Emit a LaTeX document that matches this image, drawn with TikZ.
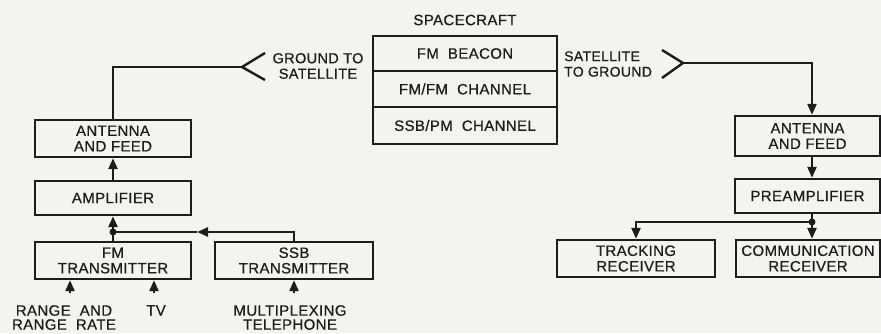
\documentclass[tikz,border=0pt]{standalone}
\usepackage{fontspec}
\setmainfont{Liberation Sans}[BoldFont=Liberation Sans, BoldFeatures={FakeBold=0.6}, LetterSpace=2.5]
\usetikzlibrary{arrows.meta}
\definecolor{ink}{RGB}{28,28,28}
\definecolor{paper}{RGB}{243,243,241}
\begin{document}
\begin{tikzpicture}[x=1pt,y=-1pt,
  txt/.style={font=\fontsize{15}{15.5}\selectfont\bfseries, text=ink, align=center, inner sep=0pt},
  box/.style={txt, draw=ink, line width=2.4pt, minimum width=156pt, minimum height=37pt},
  cbox/.style={box, minimum width=184pt, minimum height=36pt},
  conn/.style={draw=ink, line width=2.4pt},
  arr/.style={conn, -{Triangle[length=11pt,width=9pt]}},
  dot/.style={circle, fill=ink, inner sep=0pt, minimum size=7pt}]
\useasboundingbox (0,0) rectangle (881,333);
\fill[paper] (0,0) rectangle (881,333);
\clip (0,0) rectangle (881,333);

% spacecraft
\node[txt] (sc) at (465,20) {SPACECRAFT};
\node[cbox, minimum height=35pt] (sc1) at (465,53.5) {FM\ \ BEACON};
\node[cbox] (sc2) at (465,89) {FM/FM\ \ CHANNEL};
\node[cbox, minimum height=37pt] (sc3) at (465,125.5) {SSB/PM\ \ CHANNEL};

% link labels
\node[txt, font=\fontsize{14.5}{15.5}\selectfont\bfseries] (gts) at (318,66) {GROUND TO\\SATELLITE};
\node[txt, align=left, anchor=west, font=\fontsize{14}{15.5}\selectfont\bfseries] (stg) at (564,64) {SATELLITE\\TO GROUND};

% ground transmit side
\node[box] (la) at (113,138.5) {ANTENNA\\AND FEED};
\node[box, minimum height=34pt] (amp) at (113,198) {AMPLIFIER};
\node[box] (fm) at (113,260.5) {FM\\TRANSMITTER};
\node[box, minimum width=158pt] (ssb) at (294,260.5) {SSB\\TRANSMITTER};

% inputs
\node[txt, anchor=north, font=\fontsize{15}{14}\selectfont\bfseries] (in1) at (64,305) {RANGE\ \ AND\\RANGE\ \ RATE};
\node[txt, anchor=north] (in2) at (156,305) {TV};
\node[txt, anchor=north, font=\fontsize{15}{14}\selectfont\bfseries] (in3) at (290,305) {MULTIPLEXING\\TELEPHONE};
\coordinate (i1) at (70,293);
\coordinate (i2) at (154,293);
\coordinate (i3) at (294,293);
\draw[arr] (i1) -- (i1 |- fm.south);
\draw[arr] (i2) -- (i2 |- fm.south);
\draw[arr] (i3) -- (ssb.south);

% ground receive side
\node[box, minimum width=145pt, minimum height=40pt] (ra) at (807.5,136) {ANTENNA\\AND FEED};
\node[box, minimum width=145pt, minimum height=34pt] (pre) at (807.5,196) {PREAMPLIFIER};
\node[box, minimum width=144pt] (com) at (808,258.5) {COMMUNICATION\\RECEIVER};
\node[box, minimum width=158pt] (tr) at (636,258.5) {TRACKING\\RECEIVER};

% antenna symbols
\coordinate (gv) at (242,67);
\coordinate (ga1) at (265,53);
\coordinate (ga2) at (265,80);
\draw[conn] (ga1) -- (gv) -- (ga2);
\coordinate (sv) at (683,63);
\coordinate (sa1) at (662,50);
\coordinate (sa2) at (662,78);
\draw[conn] (sa1) -- (sv) -- (sa2);

% transmit connectors
\draw[conn] (la.north) |- (gv);
\draw[arr] (amp.north) -- (la.south);
\coordinate (j1) at (113,232);
\draw[arr] (fm.north) -- (amp.south);
\coordinate (m1) at (197,232);
\draw[arr] (ssb.north) |- (m1);
\draw[conn] (m1) -- (j1);
\node[dot] (d1) at (j1) {};

% receive connectors
\coordinate (rx) at (812,0);
\draw[arr] (sv) -| (rx |- ra.north);
\draw[arr] (rx |- ra.south) -- (rx |- pre.north);
\coordinate (j2) at (812,222);
\draw[arr] (rx |- pre.south) -- (rx |- com.north);
\draw[arr] (j2) -| (tr.north);
\node[dot] (d2) at (j2) {};
\end{tikzpicture}
\end{document}
